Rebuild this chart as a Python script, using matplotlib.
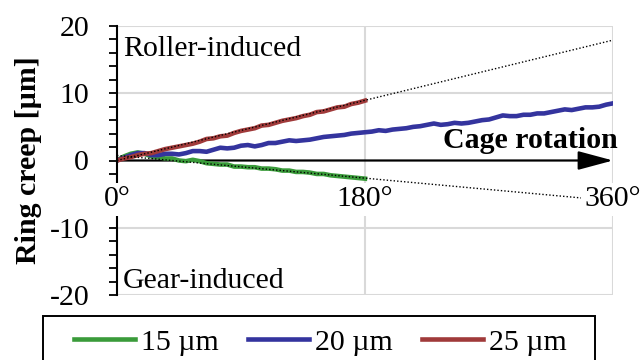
import numpy as np
import matplotlib
matplotlib.use("Agg")
import matplotlib.pyplot as plt
from matplotlib.patches import Rectangle

# angles (deg) and measured ring creep (um)
angle_half = np.arange(0, 181, 5)
angle_full = np.arange(0, 361, 5)

creep_15 = [0.0, 0.6, 1.0, 1.2, 1.0, 0.6, 0.5, 0.3, 0.3, 0.0, -0.1, 0.1, -0.1,
            -0.4, -0.5, -0.6, -0.6, -0.9, -0.9, -1.0, -1.0, -1.2, -1.2, -1.3,
            -1.5, -1.5, -1.7, -1.7, -1.8, -2.0, -2.0, -2.2, -2.3, -2.4, -2.5,
            -2.6, -2.7]
creep_20 = [0.0, 0.4, 0.8, 1.1, 1.1, 0.8, 0.8, 1.0, 1.0, 0.9, 1.1, 1.4, 1.4,
            1.3, 1.6, 1.9, 1.8, 1.9, 2.2, 2.3, 2.1, 2.3, 2.6, 2.6, 2.8, 3.0,
            2.9, 3.0, 3.1, 3.3, 3.5, 3.6, 3.7, 3.8, 4.0, 4.1, 4.2, 4.3, 4.5,
            4.4, 4.6, 4.7, 4.8, 5.0, 5.1, 5.3, 5.5, 5.3, 5.4, 5.6, 5.5, 5.6,
            5.8, 6.0, 6.1, 6.4, 6.7, 6.6, 6.6, 6.8, 6.8, 7.0, 7.0, 7.2, 7.4,
            7.6, 7.5, 7.7, 7.9, 7.9, 8.0, 8.3, 8.5]
creep_25 = [0.0, 0.3, 0.5, 0.8, 1.0, 1.1, 1.4, 1.7, 1.9, 2.1, 2.3, 2.5, 2.8,
            3.2, 3.3, 3.6, 3.7, 4.1, 4.4, 4.6, 4.8, 5.2, 5.3, 5.6, 5.9, 6.1,
            6.3, 6.6, 6.8, 7.2, 7.3, 7.6, 7.9, 8.0, 8.4, 8.6, 8.9]

# linear trend lines, extrapolated to a full revolution
trend_x = [0, 360]
trend_15 = [0.75, -6.0]
trend_25 = [0.0, 17.9]

plt.rcParams["font.family"] = ["Liberation Serif", "DejaVu Serif"]
plt.rcParams["font.size"] = 21.5

fig = plt.figure(figsize=(6.44, 3.6), dpi=100)
ax = fig.add_axes([117 / 644, 1 - 295 / 360, 496 / 644, 269 / 360])

grid_c = "#d9d9d9"
for yv in [-20, -10, 10, 20]:
    ax.axhline(yv, color=grid_c, lw=1.5, zorder=1)
for xv in [180, 360]:
    ax.axvline(xv, color=grid_c, lw=1.5, zorder=1)

# cage rotation axis arrow
ax.annotate("", xy=(360, 0), xytext=(0, 0),
            arrowprops=dict(arrowstyle="-|>,head_length=1.08,head_width=0.29",
                            mutation_scale=20, lw=1.6, color="black",
                            shrinkA=0, shrinkB=0), zorder=2)

ax.plot(angle_half, creep_15, color="#3a9b3a", lw=3.3, label="15 µm", zorder=2.2)
ax.plot(angle_full, creep_20, color="#34349e", lw=3.3, label="20 µm", zorder=2.2)
ax.plot(angle_half, creep_25, color="#a03a3a", lw=3.3, label="25 µm", zorder=2.2)
ax.plot(trend_x, trend_15, color="black", lw=1, ls=(0, (1, 1.5)), zorder=2.3)
ax.plot(trend_x, trend_25, color="black", lw=1, ls=(0, (1, 1.5)), zorder=2.3)

ax.set_xlim(0, 360)
ax.set_ylim(-20, 20)
ax.set_xticks([])
ax.set_yticks([-20, -10, 0, 10, 20])
ax.set_yticklabels(["-20", "-10", "0", "10", "20"])
ax.set_yticks(np.arange(-20, 21, 2), minor=True)
ax.tick_params(axis="y", which="both", direction="out", length=6, width=1.3,
               pad=14)
for s in ["top", "right", "bottom"]:
    ax.spines[s].set_visible(False)
ax.spines["left"].set_linewidth(1.5)

for xv, lab in [(0, "0°"), (180, "180°"), (360, "360°")]:
    ax.text(xv, -6.8, lab, ha="center", va="baseline", zorder=4,
            bbox=dict(boxstyle="square,pad=0.12", fc="white", ec="none"))

ax.text(4.4, 15.6, "Roller-induced", ha="left", va="baseline")
ax.text(4.4, -18.9, "Gear-induced", ha="left", va="baseline")
ax.text(363.5, 1.9, "Cage rotation", ha="right", va="baseline",
        fontweight="bold", zorder=4)

ax.text(-0.179, 0.5, "Ring creep [µm]", transform=ax.transAxes, rotation=90,
        ha="center", va="center", fontweight="bold")

# legend without its own frame; the box runs off the bottom edge
leg = ax.legend(loc="upper left", ncol=3,
                bbox_to_anchor=(74 / 644, 1 - 329 / 360),
                bbox_transform=fig.transFigure, frameon=False,
                handlelength=2.05, handletextpad=0.2, borderpad=0,
                columnspacing=0.97, borderaxespad=0)
fig.patches.append(Rectangle((43 / 644, -0.1), 552 / 644, 44 / 360 + 0.1,
                             transform=fig.transFigure, fill=False,
                             ec="black", lw=1.4))

fig.savefig("out.png", dpi=100)
